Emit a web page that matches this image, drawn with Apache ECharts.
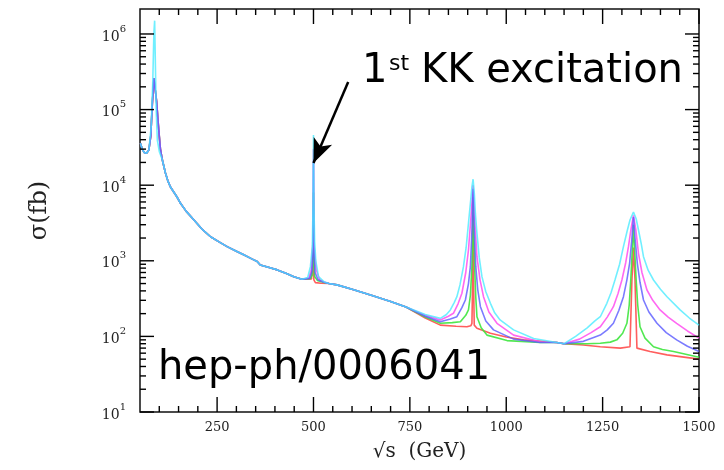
<!DOCTYPE html>
<html>
<head>
<meta charset="utf-8">
<script src="https://cdn.jsdelivr.net/npm/echarts@6/dist/echarts.min.js"></script>
<style>
  html, body { margin: 0; padding: 0; background: #fff; }
  #wrap { position: relative; width: 724px; height: 470px; }
  #chart, #frame { position: absolute; left: 0; top: 0; width: 724px; height: 470px; }
  #frame { pointer-events: none; }
</style>
</head>
<body>
<div id="wrap">
  <div id="chart"></div>
  <div id="frame"></div>
</div>
<script>
// axis range
const xMin = 50, xMax = 1500;
const yMin = 10, yMax = 2.14e6;

// tick positions
const xMajorTicks = [250, 500, 750, 1000, 1250, 1500];
const xMinorTicks = [100, 150, 200, 300, 350, 400, 450, 550, 600, 650, 700, 800, 850, 900, 950,
    1050, 1100, 1150, 1200, 1300, 1350, 1400, 1450];
const yMajorTicks = [10, 100, 1000, 10000, 100000, 1000000];
const yMinorSteps = [2, 3, 4, 5, 6, 7, 8, 9];

// Z pole region (sqrt(s) GeV, sigma fb)
const zPeakCyan = [[51, 35800], [56, 30000], [61, 27000], [67, 26400], [73, 29200], [79, 59400],
    [83, 223000], [86, 1020000], [88, 1500000], [90, 369000], [92, 98900], [95, 39600], [100, 28000]];
const zPeakOthers = [[51, 35800], [56, 30000], [61, 27000], [67, 26400], [73, 29200], [78, 45000],
    [82, 120000], [86, 260000], [90, 250000], [93, 130000], [96, 80000], [99, 51000], [103, 30000]];

// shared falling part
const baseA = [[108, 21500], [116, 14500], [122, 11500], [129, 9460], [146, 6980], [155, 5760],
    [170, 4500], [190, 3470], [210, 2650], [233, 2080], [255, 1780], [276, 1540], [300, 1340],
    [319, 1200], [340, 1060], [354, 980], [362, 880], [385, 815], [406, 758], [430, 680],
    [449, 616], [470, 570]];

// first KK peak
const peak1Red = [[470, 570], [495, 575], [499, 600], [500, 3000], [501, 560], [505, 515], [520, 505], [540, 500]];
const peak1Green = [[470, 570], [492, 580], [497, 650], [499.5, 1500], [500, 8000], [500.5, 1500], [503, 620],
    [510, 550], [527, 515], [540, 500]];
const peak1Magenta = [[470, 570], [488, 590], [494, 760], [498, 1500], [499.5, 8000], [500, 30000],
    [500.5, 8000], [502, 1500], [507, 760], [516, 560], [527, 525], [540, 500]];
const peak1Blue = [[470, 570], [490, 585], [496, 720], [499, 1500], [500, 20000], [501, 1500], [504, 700],
    [512, 560], [527, 520], [540, 500]];
const peak1Cyan = [[470, 570], [485, 600], [492, 836], [497, 1537], [499, 6000], [500, 46000], [501, 6000],
    [503, 1800], [506, 1000], [513, 617], [527, 530], [540, 500]];

const baseB = [[540, 500], [561, 480], [600, 420], [650, 350], [700, 290], [740, 245]];

// second KK peak
const peak2Red = [[740, 245], [790, 175], [829, 141], [870, 136], [898, 134], [908, 138], [911, 149],
    [913, 600], [914, 4000], [915, 600], [917, 141], [924, 128], [959, 110], [1000, 98], [1045, 90], [1131, 83]];
const peak2Green = [[740, 245], [790, 180], [829, 149], [860, 152], [881, 156], [895, 190], [902, 224],
    [907, 350], [911, 836], [913, 3000], [914, 7000], [915, 3000], [918, 836], [921, 330], [924, 182],
    [935, 130], [950, 104], [1002, 88], [1088, 83], [1131, 83]];
const peak2Magenta = [[740, 245], [790, 190], [829, 165], [850, 185], [863, 202], [875, 270], [885, 372],
    [895, 700], [902, 1390], [908, 3500], [914, 10000], [919, 3000], [924, 1133], [932, 560], [941, 335],
    [955, 210], [976, 149], [1019, 104], [1088, 85], [1131, 83]];
const peak2Blue = [[740, 245], [790, 185], [829, 156], [855, 170], [872, 182], [885, 240], [894, 303],
    [902, 500], [907, 836], [911, 2500], [914, 9000], [917, 2500], [921, 836], [926, 420], [933, 247],
    [947, 160], [967, 122], [1019, 92], [1088, 83], [1131, 83]];
const peak2Cyan = [[740, 245], [790, 195], [829, 173], [845, 195], [855, 224], [865, 280], [872, 335],
    [880, 480], [889, 836], [896, 1500], [902, 3133], [908, 6500], [911, 9500], [914, 12000], [917, 8000],
    [920, 4200], [924, 2312], [930, 1100], [937, 617], [947, 390], [959, 274], [970, 205], [984, 165],
    [1019, 122], [1071, 94], [1131, 83]];

const baseC = [[1131, 83], [1150, 80]];

// third KK peak
const peak3Red = [[1150, 80], [1200, 77], [1244, 73], [1296, 70], [1321, 73], [1326, 557], [1328, 900],
    [1330, 1500], [1332, 900], [1334, 557], [1339, 70], [1373, 63], [1417, 57], [1500, 50]];
const peak3Green = [[1150, 80], [1210, 80], [1244, 81], [1270, 84], [1287, 90], [1302, 110], [1313, 149],
    [1319, 260], [1323, 557], [1327, 1400], [1330, 3000], [1333, 1400], [1337, 557], [1341, 260],
    [1347, 134], [1360, 95], [1382, 73], [1405, 67], [1434, 63], [1500, 53]];
const peak3Magenta = [[1150, 80], [1190, 92], [1220, 112], [1244, 134], [1262, 180], [1278, 247],
    [1290, 370], [1300, 557], [1310, 950], [1317, 1537], [1324, 2700], [1330, 4000], [1336, 2600],
    [1343, 1257], [1352, 700], [1365, 411], [1380, 300], [1399, 224], [1420, 180], [1442, 149],
    [1470, 118], [1500, 95]];
const peak3Blue = [[1150, 80], [1200, 86], [1225, 96], [1244, 104], [1262, 122], [1278, 149], [1292, 220],
    [1304, 335], [1313, 560], [1320, 926], [1326, 2000], [1330, 3800], [1334, 2000], [1340, 926],
    [1347, 520], [1356, 303], [1370, 210], [1391, 149], [1415, 112], [1442, 90], [1470, 74], [1500, 63]];
const peak3Cyan = [[1150, 80], [1180, 100], [1210, 130], [1230, 160], [1244, 182], [1261, 274],
    [1272, 380], [1282, 557], [1294, 900], [1304, 1537], [1313, 2400], [1321, 3467], [1330, 4400],
    [1337, 3600], [1343, 2554], [1350, 1700], [1356, 1133], [1368, 750], [1382, 557], [1400, 420],
    [1417, 335], [1451, 224], [1475, 175], [1500, 141]];

// arrow: from label down to first KK peak
const arrowFrom = [590, 232000];
const arrowTo = [500, 19700];

const curves = [
    { name: 'red', color: '#ff4d4d', opacity: 0.9, parts: [zPeakOthers, baseA, peak1Red, baseB, peak2Red, baseC, peak3Red] },
    { name: 'green', color: '#3ee63e', opacity: 0.9, parts: [zPeakOthers, baseA, peak1Green, baseB, peak2Green, baseC, peak3Green] },
    { name: 'magenta', color: '#ff4df0', opacity: 0.85, parts: [zPeakOthers, baseA, peak1Magenta, baseB, peak2Magenta, baseC, peak3Magenta] },
    { name: 'blue', color: '#5a5aff', opacity: 0.8, parts: [zPeakOthers, baseA, peak1Blue, baseB, peak2Blue, baseC, peak3Blue] },
    { name: 'cyan', color: '#40eaff', opacity: 0.75, parts: [zPeakCyan, baseA, peak1Cyan, baseB, peak2Cyan, baseC, peak3Cyan] }
];

const gridBox = { left: 140, right: 25, top: 9, bottom: 58 };

const chart = echarts.init(document.getElementById('chart'));

const lineSeries = curves.map((c) => ({
    name: c.name,
    type: 'line',
    data: [].concat(...c.parts),
    showSymbol: false,
    symbol: 'none',
    smooth: false,
    silent: true,
    lineStyle: { color: c.color, width: 1.6, opacity: c.opacity },
    emphasis: { disabled: true }
}));

// arrow on the last series
lineSeries[lineSeries.length - 1].markLine = {
    silent: true,
    animation: false,
    symbol: ['none', 'arrow'],
    symbolSize: [15, 24],
    label: { show: false },
    lineStyle: { color: '#000', width: 2.5, type: 'solid', opacity: 1 },
    data: [[{ coord: arrowFrom }, { coord: arrowTo }]]
};

chart.setOption({
    backgroundColor: '#fff',
    animation: false,
    grid: Object.assign({ show: true, borderColor: '#111', borderWidth: 1.5 }, gridBox),
    xAxis: {
        type: 'value',
        min: xMin,
        max: xMax,
        interval: 50,
        axisLine: { show: false },
        axisTick: { show: false },
        splitLine: { show: false },
        axisLabel: {
            formatter: (v) => (v % 250 === 0 ? String(v) : ''),
            fontFamily: 'DejaVu Serif',
            fontSize: 13,
            color: '#222',
            margin: 9
        },
        name: '\u221As  (GeV)',
        nameLocation: 'middle',
        nameGap: 30,
        nameTextStyle: { fontFamily: 'DejaVu Serif', fontSize: 20, color: '#222' }
    },
    yAxis: {
        type: 'log',
        logBase: 10,
        min: yMin,
        max: yMax,
        axisLine: { show: false },
        axisTick: { show: false },
        splitLine: { show: false },
        axisLabel: {
            showMaxLabel: false,
            margin: 14,
            formatter: (v) => '{b|10}{s|' + Math.round(Math.log10(v)) + '}',
            rich: {
                b: { fontFamily: 'DejaVu Serif', fontSize: 14, color: '#222', lineHeight: 20, verticalAlign: 'bottom' },
                s: { fontFamily: 'DejaVu Serif', fontSize: 10, color: '#222', lineHeight: 20, verticalAlign: 'top' }
            }
        },
        name: '\u03C3(fb)',
        nameLocation: 'middle',
        nameRotate: 90,
        nameGap: 88,
        nameTextStyle: { fontFamily: 'DejaVu Serif', fontSize: 24, color: '#222' }
    },
    graphic: { elements: [
        { type: 'text', left: 362, top: 52, style: { text: '1', fill: '#000', font: '40px "DejaVu Sans"' } },
        { type: 'text', left: 389, top: 53, style: { text: 'st', fill: '#000', font: '22px "DejaVu Sans"' } },
        { type: 'text', left: 421, top: 52, style: { text: 'KK excitation', fill: '#000', font: '40px "DejaVu Sans"' } },
        { type: 'text', left: 158, top: 349, style: { text: 'hep-ph/0006041', fill: '#000', font: '40px "DejaVu Sans"' } }
    ] },
    series: lineSeries
});

// second, transparent instance on top with the same grid and scales, only for the frame ticks
const frame = echarts.init(document.getElementById('frame'));
frame.setOption({
    backgroundColor: 'transparent',
    animation: false,
    grid: Object.assign({ show: false }, gridBox),
    xAxis: { type: 'value', min: xMin, max: xMax, interval: 50, show: false },
    yAxis: { type: 'log', logBase: 10, min: yMin, max: yMax, show: false },
    series: [{ type: 'line', showSymbol: false, data: [[xMin, yMin]] }]
});

const tickEls = [];
function addTick(x, y, dx, dy) {
    const p = frame.convertToPixel({ gridIndex: 0 }, [x, y]);
    tickEls.push({
        type: 'line',
        shape: { x1: p[0], y1: p[1], x2: p[0] + dx, y2: p[1] + dy },
        style: { stroke: '#000', lineWidth: 1.4 }
    });
}
xMajorTicks.forEach((v) => {
    addTick(v, yMin, 0, -15);
    addTick(v, yMax, 0, 15);
});
xMinorTicks.forEach((v) => {
    addTick(v, yMin, 0, -6);
    addTick(v, yMax, 0, 6);
});
yMajorTicks.forEach((v) => {
    addTick(xMin, v, 14, 0);
    addTick(xMax, v, -14, 0);
});
yMajorTicks.slice(0, 5).forEach((v) => {
    yMinorSteps.forEach((m) => {
        addTick(xMin, v * m, 6, 0);
        addTick(xMax, v * m, -6, 0);
    });
});
frame.setOption({ graphic: { elements: tickEls } });
</script>
</body>
</html>
